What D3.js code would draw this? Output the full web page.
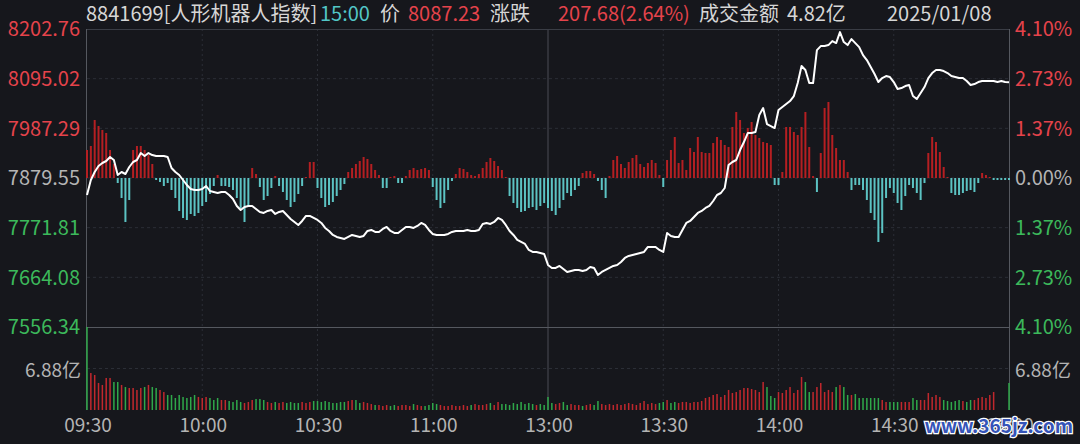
<!DOCTYPE html>
<html><head><meta charset="utf-8">
<script src="https://cdn.jsdelivr.net/npm/d3@7"></script>
<style>
html,body{margin:0;padding:0;background:#16171c;}
svg{display:block;}
text{font-family:"Noto Sans CJK SC","Noto Sans",sans-serif;}
</style></head>
<body>
<svg id="c" width="1080" height="444"></svg>
<script>
// ---------- data ----------
const code = "8841699";
const indexName = "人形机器人指数";
const lastTime = "15:00";
const tradeDate = "2025/01/08";
const turnover = "4.82亿";
const prevClose = 7879.55;
const priceTicks = [8202.76, 8095.02, 7987.29, 7879.55, 7771.81, 7664.08, 7556.34];
const pctLabels = ["4.10%", "2.73%", "1.37%", "0.00%", "1.37%", "2.73%", "4.10%"];
const timeLabels = ["09:30", "10:00", "10:30", "11:00", "13:00", "13:30", "14:00", "14:30", "15:00"];
const timeTickMinutes = [0, 30, 60, 90, 120, 150, 180, 210, 240];
const volGridValue = 6.88;
const volLabel = "6.88亿";

// minute prices 09:30..11:30, 13:01..15:00 (241 points)
const price = [
7842.69,7875.21,7892.56,7905.57,7912.07,7916.41,7925.08,7918.57,7886.05,7892.56,
7888.22,7903.40,7914.24,7918.57,7933.75,7927.25,7933.75,7929.41,7927.25,7927.25,
7927.25,7925.08,7901.23,7892.56,7886.05,7875.21,7864.37,7855.70,7853.53,7853.53,
7855.70,7862.21,7851.37,7849.20,7847.03,7849.20,7849.20,7842.69,7834.02,7818.85,
7810.17,7816.68,7818.85,7818.85,7812.34,7805.84,7803.67,7808.01,7810.17,7801.50,
7805.84,7808.01,7799.33,7790.66,7784.16,7777.65,7786.33,7797.17,7797.17,7792.83,
7788.49,7781.99,7771.15,7764.65,7755.97,7751.64,7749.47,7747.30,7751.64,7755.97,
7753.81,7751.64,7753.81,7764.65,7766.81,7762.48,7762.48,7768.98,7773.32,7764.65,
7760.31,7760.31,7766.81,7773.32,7773.32,7771.15,7775.49,7781.99,7777.65,7766.81,
7758.14,7755.97,7755.97,7755.97,7758.14,7762.48,7764.65,7764.65,7764.65,7766.81,
7764.65,7764.65,7766.81,7779.82,7781.99,7779.82,7784.16,7792.83,7788.49,7777.65,
7764.65,7755.97,7745.13,7740.80,7736.46,7723.45,7719.12,7719.12,7716.95,7714.78,
7690.93,7684.43,7684.43,7688.77,7682.26,7675.76,7677.93,7680.09,7680.09,7677.93,
7680.09,7686.60,7684.43,7669.25,7675.76,7680.09,7684.43,7688.77,7690.93,7697.44,
7706.11,7710.45,7712.61,7714.78,7716.95,7719.12,7729.96,7729.96,7729.96,7723.45,
7719.12,7760.31,7753.81,7751.64,7751.64,7766.81,7781.99,7786.33,7795.00,7803.67,
7808.01,7814.51,7818.85,7829.69,7842.69,7847.03,7857.87,7907.73,7914.24,7918.57,
7940.25,7957.60,7977.11,7977.11,7979.28,8016.13,8031.31,7996.62,7992.29,7987.95,
8026.97,8033.48,8039.98,8046.49,8057.33,8085.51,8122.37,8113.69,8085.51,8085.51,
8157.05,8165.73,8165.73,8167.89,8176.57,8172.23,8196.08,8174.40,8167.89,8180.90,
8172.23,8163.56,8146.21,8135.37,8120.20,8105.02,8087.68,8096.35,8100.69,8098.52,
8087.68,8072.50,8074.67,8079.01,8081.17,8057.33,8050.82,8063.83,8076.84,8096.35,
8107.19,8113.69,8113.69,8111.53,8107.19,8100.69,8098.52,8096.35,8096.35,8089.85,
8081.17,8083.34,8087.68,8089.85,8089.85,8089.85,8089.85,8087.68,8089.85,8087.68,
8087.23];

// strength histogram (red up / teal down)
const strength = [
28,32,58,52,48,45,28,14,-5,-20,
-44,-22,28,32,32,28,23,14,-2,-4,
-8,-5,-12,-20,-33,-40,-42,-36,-38,-35,
-28,-24,-16,-8,3,-8,-8,-9,-12,-20,
-30,-44,-28,10,4,-9,-22,-18,-10,2,
-8,-14,-22,-29,-24,-16,-8,1,16,16,
-10,-20,-29,-27,-24,-18,-12,-6,6,10,
14,17,21,19,14,8,3,-10,-10,1,
2,-5,-5,2,8,10,8,9,10,8,
-9,-22,-30,-25,-12,-3,4,10,9,6,
3,2,4,10,16,20,17,12,8,1,
-18,-25,-30,-34,-33,-30,-29,-32,-28,-25,
-30,-33,-37,-30,-22,-15,-18,-12,-8,5,
7,7,4,-3,-12,-20,2,18,22,14,
10,16,20,23,14,11,15,18,15,3,
-9,18,28,41,15,18,8,30,26,41,
26,25,25,35,41,38,33,31,51,66,
58,45,50,56,43,40,36,35,33,-7,
-7,6,51,51,46,43,51,66,31,2,
-14,25,70,76,43,30,18,18,6,-12,
-7,-7,-12,-22,-35,-42,-64,-55,-20,-10,
-15,-25,-32,-18,-7,-10,-15,-22,-5,25,
41,36,26,11,1,-15,-17,-17,-15,-13,
-12,-14,-5,5,3,1,-2,-2,-2,-2,
-2];

// minute volume
const volume = [
13.76,6.13,5.80,4.48,4.15,5.31,5.31,4.64,4.64,4.15,
3.81,3.65,3.65,3.32,3.65,3.81,4.15,3.81,3.65,3.32,
2.98,2.49,2.49,1.99,2.49,2.16,1.99,2.16,2.49,2.16,
1.99,2.16,1.99,1.66,1.99,1.66,1.66,1.49,1.33,1.66,
1.33,1.16,1.33,1.66,1.82,1.82,1.66,1.33,1.16,1.33,
1.16,1.33,1.16,1.33,1.16,1.16,1.33,1.16,1.33,1.49,
1.49,1.33,1.49,1.33,1.16,1.16,1.33,1.33,1.49,1.66,
1.66,1.16,1.33,1.16,0.99,0.83,0.83,0.66,0.83,0.66,
0.83,0.66,0.83,0.83,0.66,0.99,0.83,0.66,0.66,0.83,
1.16,0.99,0.83,0.66,0.66,0.83,0.66,0.66,0.83,0.66,
0.83,0.99,0.83,0.83,0.99,1.16,0.83,1.33,0.99,0.99,
0.83,1.16,0.99,1.33,0.99,1.16,0.99,0.83,0.99,0.83,
2.16,1.16,0.99,1.16,1.33,0.83,0.99,0.83,0.83,0.66,
0.83,0.99,0.83,1.49,0.99,0.83,0.99,0.83,0.99,0.83,
0.99,1.16,0.99,0.83,1.16,1.49,0.99,1.16,0.99,1.16,
1.33,1.66,1.16,1.33,1.16,1.33,1.33,1.16,1.33,1.33,
1.49,1.99,2.16,2.49,2.65,2.16,2.49,3.32,2.82,2.98,
3.32,3.65,3.65,3.48,3.32,2.98,4.64,3.81,2.32,1.99,
2.98,2.82,3.32,3.81,2.82,3.32,5.47,4.64,2.98,2.98,
3.81,4.48,2.98,3.32,2.98,3.81,4.15,3.81,2.49,2.49,
2.65,1.99,1.99,1.99,1.99,1.99,1.99,1.66,1.33,1.33,
1.33,1.33,1.33,1.33,1.33,1.99,1.66,1.66,1.66,2.82,
2.16,2.49,2.16,1.66,1.49,1.33,1.49,1.66,1.49,1.33,
1.66,1.66,1.99,2.16,1.99,2.49,2.98,0,0,0,
4.48];

// ---------- layout ----------
const L = 87, R = 1009, T = 29, PB = 327, VB = 410;
const RED = "#e5434b", GREEN = "#3cb95b", GRAY = "#b4b4b4", TEXT = "#d6d6d6", TEAL = "#52c6c6";

const svg = d3.select("#c");
svg.append("rect").attr("width", 1080).attr("height", 444).attr("fill", "#16171c");

const x = d3.scaleLinear().domain([0, 240]).range([L, R]);
const y = d3.scaleLinear().domain([priceTicks[6], priceTicks[0]]).range([PB, T]);
const y0 = y(prevClose);
const hs = d3.scaleLinear().domain([-100, 100]).range([y0 + 100, y0 - 100]);
const yv = d3.scaleLinear().domain([0, volGridValue * 2]).range([VB, PB]);

// grid
const g = svg.append("g");
priceTicks.forEach((p, i) => {
  if (i === 0 || i === 6) return;
  g.append("line").attr("x1", L).attr("x2", R).attr("y1", y(p)).attr("y2", y(p))
    .attr("stroke", "#2b2e36").attr("stroke-width", 1).attr("stroke-dasharray", "3,3");
});
g.append("line").attr("x1", L).attr("x2", R).attr("y1", yv(volGridValue)).attr("y2", yv(volGridValue))
  .attr("stroke", "#2b2e36").attr("stroke-dasharray", "3,3");
timeTickMinutes.forEach(m => {
  if (m === 0 || m === 240 || m === 120) return;
  g.append("line").attr("x1", x(m)).attr("x2", x(m)).attr("y1", T).attr("y2", VB)
    .attr("stroke", "#2b2e36").attr("stroke-dasharray", "2,3");
});
g.append("line").attr("x1", x(120)).attr("x2", x(120)).attr("y1", T).attr("y2", VB)
  .attr("stroke", "#4a4d55");
g.append("line").attr("x1", L).attr("x2", R).attr("y1", T + 0.5).attr("y2", T + 0.5).attr("stroke", "#3a3d45");
g.append("line").attr("x1", L).attr("x2", R).attr("y1", PB + 0.5).attr("y2", PB + 0.5).attr("stroke", "#55585f");
g.append("line").attr("x1", L - 0.5).attr("x2", L - 0.5).attr("y1", T).attr("y2", VB).attr("stroke", "#55585f");
g.append("line").attr("x1", R + 0.5).attr("x2", R + 0.5).attr("y1", T).attr("y2", VB).attr("stroke", "#55585f");

// strength bars
svg.append("g").selectAll("rect").data(strength).join("rect")
  .attr("x", (d, i) => x(i) - 1)
  .attr("width", 2)
  .attr("y", d => d >= 0 ? hs(d) : y0)
  .attr("height", d => Math.abs(hs(d) - y0))
  .attr("fill", d => d >= 0 ? "#b51f22" : "#5cc3c3");

// volume bars
svg.append("g").selectAll("rect").data(volume).join("rect")
  .attr("x", (d, i) => x(i) - 0.75)
  .attr("width", 1.5)
  .attr("y", d => yv(d))
  .attr("height", d => VB - yv(d))
  .attr("fill", (d, i) => {
    const prev = i === 0 ? prevClose : price[i - 1];
    return price[i] >= prev ? "#c0282d" : "#2fa84a";
  });

// price line
svg.append("path").datum(price)
  .attr("d", d3.line().x((d, i) => x(i)).y(d => y(d)))
  .attr("fill", "none").attr("stroke", "#ffffff").attr("stroke-width", 2)
  .attr("stroke-linejoin", "round");

// left labels
priceTicks.forEach((p, i) => {
  const c = i < 3 ? RED : (i === 3 ? GRAY : GREEN);
  svg.append("text").attr("x", 80).attr("y", y(p)).attr("dy", "0.36em")
    .attr("text-anchor", "end").attr("font-size", 20).attr("fill", c).text(d3.format(".2f")(p));
  svg.append("text").attr("x", 1015).attr("y", y(p)).attr("dy", "0.36em")
    .attr("text-anchor", "start").attr("font-size", 20).attr("fill", c).text(pctLabels[i]);
});
svg.append("text").attr("x", 81).attr("y", yv(volGridValue) + 2).attr("dy", "0.36em")
  .attr("text-anchor", "end").attr("font-size", 19).attr("fill", GRAY).text(volLabel);
svg.append("text").attr("x", 1015).attr("y", yv(volGridValue) + 2).attr("dy", "0.36em")
  .attr("text-anchor", "start").attr("font-size", 19).attr("fill", GRAY).text(volLabel);

// time labels
timeTickMinutes.forEach((m, i) => {
  svg.append("text").attr("x", x(m) + 1).attr("y", 425).attr("dy", "0.36em")
    .attr("text-anchor", "middle").attr("font-size", 19).attr("fill", GRAY).text(timeLabels[i]);
});

// header
const last = price[price.length - 1];
const chg = last - prevClose;
const pct = chg / prevClose * 100;
const hdr = [
  [86, `${code}[${indexName}]`, TEXT],
  [320, lastTime, TEAL],
  [380, "价", TEXT],
  [408, d3.format(".2f")(last), RED],
  [490, "涨跌", TEXT],
  [558, `${d3.format(".2f")(chg)}(${d3.format(".2f")(pct)}%)`, RED],
  [699, "成交金额", TEXT],
  [787, turnover, TEXT],
  [887, tradeDate, TEXT]
];
hdr.forEach(([hx, t, c]) => {
  svg.append("text").attr("x", hx).attr("y", 21).attr("font-size", 20).attr("fill", c).text(t);
});

// watermark
svg.append("text").attr("x", 1073).attr("y", 433).attr("text-anchor", "end")
  .attr("font-size", 19).attr("font-weight", "bold").attr("font-family", "DejaVu Serif")
  .attr("fill", "#3554b8").attr("stroke", "#ffffff").attr("stroke-width", 2.5)
  .attr("paint-order", "stroke").text("www.365jz.com");
</script>
</body></html>
